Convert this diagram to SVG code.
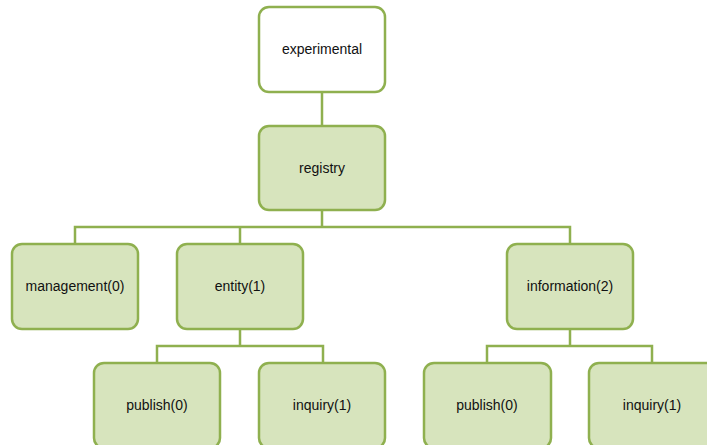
<svg xmlns="http://www.w3.org/2000/svg" width="707" height="445" viewBox="0 0 707 445">
  <style>
    .box { fill: #d7e4bd; stroke: #8fb04f; stroke-width: 2.5; }
    .root { fill: #ffffff; stroke: #8fb04f; stroke-width: 2.5; }
    .link { fill: none; stroke: #8fb04f; stroke-width: 2.5; }
    text { font-family: "Liberation Sans", Arial, sans-serif; font-size: 14px; fill: #111; text-anchor: middle; dominant-baseline: central; }
  </style>
  <rect width="707" height="445" fill="#ffffff"/>
  <g id="connectors">
    <path class="link" d="M322 92 V126"/>
    <path class="link" d="M322 210 V227 M75 244 V227 H570 V244 M240 227 V244"/>
    <path class="link" d="M240 329 V346 M157 363 V346 H323 V363"/>
    <path class="link" d="M570 329 V346 M487 363 V346 H652 V363"/>
  </g>
  <g id="experimental">
    <rect class="root" x="259" y="7" width="126" height="85" rx="10"/>
    <text x="322" y="49">experimental</text>
  </g>
  <g id="registry">
    <rect class="box" x="259" y="126" width="126" height="84" rx="10"/>
    <text x="322" y="168">registry</text>
  </g>
  <g id="management">
    <rect class="box" x="12" y="244" width="126" height="85" rx="10"/>
    <text x="75" y="286">management(0)</text>
  </g>
  <g id="entity">
    <rect class="box" x="177" y="244" width="126" height="85" rx="10"/>
    <text x="240" y="286">entity(1)</text>
  </g>
  <g id="information">
    <rect class="box" x="507" y="244" width="126" height="85" rx="10"/>
    <text x="570" y="286">information(2)</text>
  </g>
  <g id="entity-publish">
    <rect class="box" x="94" y="363" width="126" height="85" rx="10"/>
    <text x="157" y="405">publish(0)</text>
  </g>
  <g id="entity-inquiry">
    <rect class="box" x="259" y="363" width="126" height="85" rx="10"/>
    <text x="322" y="405">inquiry(1)</text>
  </g>
  <g id="information-publish">
    <rect class="box" x="424" y="363" width="127" height="85" rx="10"/>
    <text x="487" y="405">publish(0)</text>
  </g>
  <g id="information-inquiry">
    <rect class="box" x="589" y="363" width="127" height="85" rx="10"/>
    <text x="652" y="405">inquiry(1)</text>
  </g>
</svg>
